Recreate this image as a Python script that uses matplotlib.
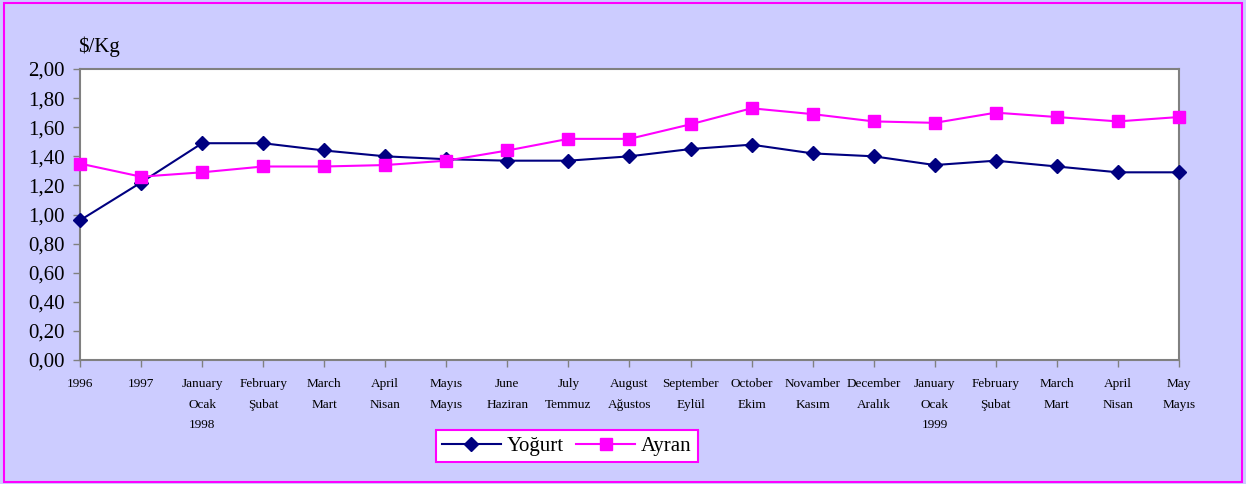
import matplotlib
matplotlib.use("Agg")
import matplotlib.pyplot as plt
from matplotlib.patches import Rectangle
from matplotlib.ticker import FuncFormatter

categories = ["1996", "1997", "January\nOcak\n1998", "February\nŞubat", "March\nMart",
              "April\nNisan", "Mayıs\nMayıs", "June\nHaziran", "July\nTemmuz",
              "August\nAğustos", "September\nEylül", "October\nEkim", "Novamber\nKasım",
              "December\nAralık", "January\nOcak\n1999", "February\nŞubat", "March\nMart",
              "April\nNisan", "May\nMayıs"]
yogurt = [0.96, 1.22, 1.49, 1.49, 1.44, 1.40, 1.38, 1.37, 1.37, 1.40, 1.45, 1.48,
          1.42, 1.40, 1.34, 1.37, 1.33, 1.29, 1.29]
ayran = [1.35, 1.26, 1.29, 1.33, 1.33, 1.34, 1.37, 1.44, 1.52, 1.52, 1.62, 1.73,
         1.69, 1.64, 1.63, 1.70, 1.67, 1.64, 1.67]
y_ticks = [0.0, 0.2, 0.4, 0.6, 0.8, 1.0, 1.2, 1.4, 1.6, 1.8, 2.0]

plt.rcParams['font.family'] = ['Liberation Serif', 'DejaVu Serif']

fig = plt.figure(figsize=(12.46, 4.84), dpi=100)
fig.patch.set_facecolor('#CCCCFF')
fig.patches.append(Rectangle((0.003, 0.004), 0.994, 0.99, transform=fig.transFigure,
                             fill=False, edgecolor='#FF00FF', linewidth=1.5))

ax = fig.add_axes([0.0642, 0.2562, 0.8820, 0.6012])
ax.set_facecolor('white')
x = list(range(len(categories)))
ax.plot(x, yogurt, color='#000080', marker='D', markersize=7, linewidth=1.5,
        label='Yoğurt', clip_on=False, zorder=3)
ax.plot(x, ayran, color='#FF00FF', marker='s', markersize=9, linewidth=1.5,
        label='Ayran', clip_on=False, zorder=3)

ax.set_xlim(0, len(categories) - 1)
ax.set_ylim(0, 2.0)
ax.set_yticks(y_ticks)
ax.yaxis.set_major_formatter(FuncFormatter(lambda v, p: f"{v:.2f}".replace('.', ',')))
ax.set_xticks(x)
ax.set_xticklabels(categories, fontsize=9.5, linespacing=1.95, va='top')
ax.tick_params(axis='y', labelsize=15, direction='out', length=5, color='#808080', width=1, pad=6)
ax.tick_params(axis='x', direction='out', length=5, color='#808080', width=1, pad=8)
for s in ax.spines.values():
    s.set_color('#808080')
    s.set_linewidth(1.5)

fig.text(0.0626, 0.903, '\\$/Kg', fontsize=15, ha='left', va='center')

leg = fig.legend(loc='center', bbox_to_anchor=(0.455, 0.078), ncol=2, fontsize=15,
                 frameon=True, fancybox=False, edgecolor='#FF00FF', facecolor='white',
                 framealpha=1, handlelength=2.8, columnspacing=0.6, handletextpad=0.3,
                 borderpad=0.3)
leg.get_frame().set_linewidth(1.5)

fig.savefig('out.png', dpi=100, facecolor=fig.get_facecolor())
